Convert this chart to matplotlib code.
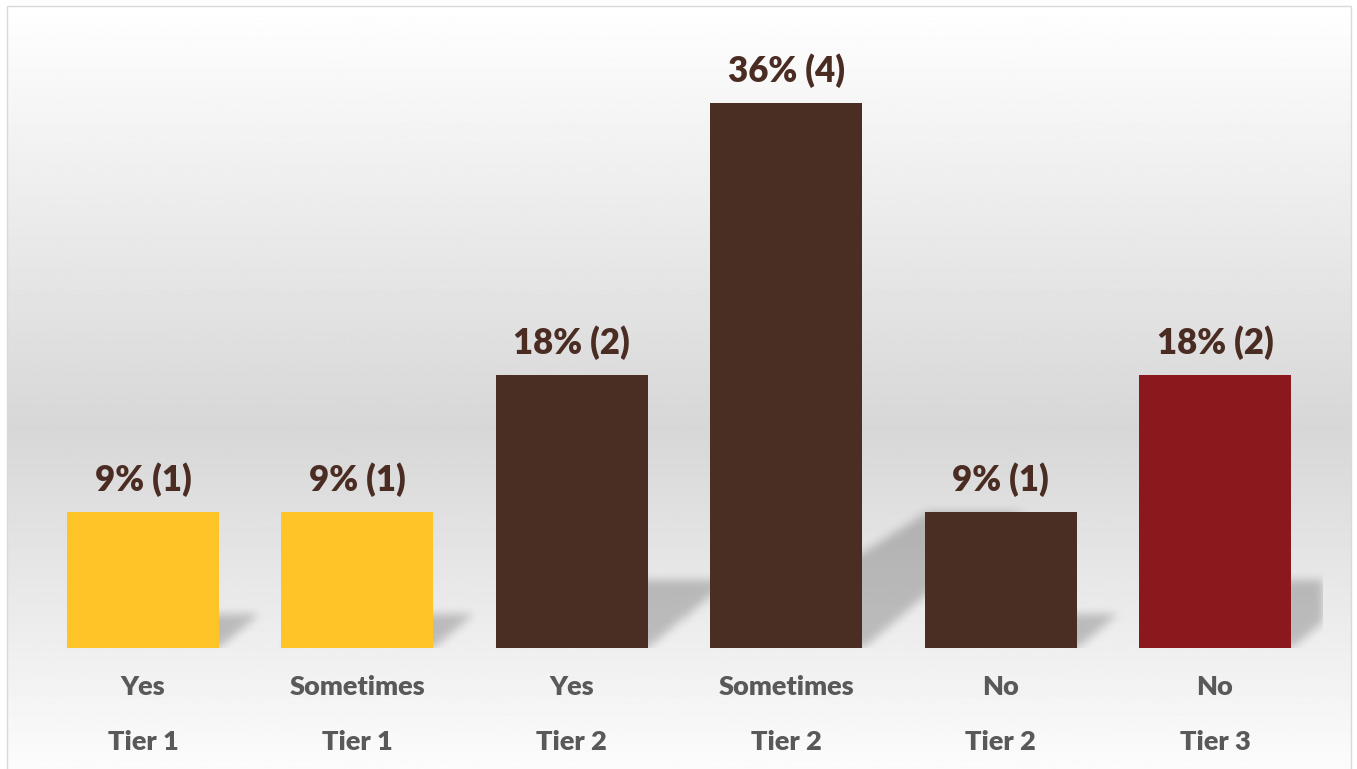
import matplotlib
import matplotlib.pyplot as plt
import numpy as np
from matplotlib.patches import Rectangle

matplotlib.use("Agg")

# survey responses, grouped by tier
answers = ["Yes", "Sometimes", "Yes", "Sometimes", "No", "No"]
tiers = ["Tier 1", "Tier 1", "Tier 2", "Tier 2", "Tier 2", "Tier 3"]
counts = [1, 1, 2, 4, 1, 2]

tier_colors = {"Tier 1": "#fec428", "Tier 2": "#4a2e24", "Tier 3": "#8b181c"}
label_color = "#4a2c23"
axis_text_color = "#595959"
font = ["Lato", "DejaVu Sans"]

W, H = 1357, 769


def gaussian_blur(a, sigma):
    r = int(3 * sigma)
    k = np.exp(-0.5 * (np.arange(-r, r + 1) / sigma) ** 2)
    k /= k.sum()
    a = np.apply_along_axis(lambda m: np.convolve(m, k, mode="same"), 0, a)
    a = np.apply_along_axis(lambda m: np.convolve(m, k, mode="same"), 1, a)
    return a


def draw_shadows(ax, bars, rise=0.25, lean_left=0.397, lean_right=0.294,
                 sigma=4.5, alpha=0.21):
    """Soft perspective shadow cast up and to the right of each bar."""
    bbox = ax.bbox
    nx, ny = int(round(bbox.width)), int(round(bbox.height))
    X, Y = np.meshgrid(bbox.x0 + np.arange(nx) + 0.5,
                       bbox.y0 + np.arange(ny) + 0.5)
    mask = np.zeros((ny, nx))
    for bar in bars:
        (x0, y0), (x1, y1) = ax.transData.transform(
            [(bar.get_x(), 0), (bar.get_x() + bar.get_width(), bar.get_height())]
        )
        h = y1 - y0
        top = rise * h
        s = np.clip((Y - y0) / top, 0, 1)
        inside = (
            (Y >= y0) & (Y <= y0 + top)
            & (X >= x0 + s * lean_left * h)
            & (X <= x1 + s * lean_right * h)
        )
        mask[inside] = 1.0
    mask = gaussian_blur(mask, sigma)
    rgba = np.zeros((ny, nx, 4))
    rgba[..., 3] = mask * alpha
    ax.imshow(rgba, extent=(*ax.get_xlim(), *ax.get_ylim()), origin="lower",
              aspect="auto", zorder=1, interpolation="nearest")


fig = plt.figure(figsize=(W / 100, H / 100), dpi=100)

# chart area: vertical grey gradient inside a thin frame
bg = fig.add_axes([0, 0, 1, 1], zorder=-1)
bg.set_xlim(0, W)
bg.set_ylim(H, 0)
bg.set_axis_off()
frame = (6.5, 5.5, 1350.5, 775.0)
t = np.linspace(0, 1, 800)
shade = np.interp(t, [0.0, 0.55, 1.0], [1.0, 0.843, 0.99])
grad = np.repeat(shade[:, None], 2, axis=1)
bg.imshow(grad, cmap="gray", vmin=0, vmax=1, aspect="auto", origin="upper",
          extent=(frame[0], frame[2], frame[3], frame[1]))
bg.add_patch(Rectangle((frame[0], frame[1]), frame[2] - frame[0],
                       frame[3] - frame[1], fill=False, edgecolor="#d9d9d9",
                       linewidth=1.0))

ax = fig.add_axes([35.8 / W, 121 / H, 1286.4 / W, 600 / H], zorder=1)
ax.set_facecolor("none")
ax.set_axis_off()

total = sum(counts)
pct = [100 * c / total for c in counts]
x = np.arange(len(counts))
ax.set_xlim(-0.5, len(counts) - 0.5)
ax.set_ylim(0, 40)

bars = ax.bar(x, pct, width=0.709, color=[tier_colors[t] for t in tiers],
              zorder=2)
draw_shadows(ax, bars)
ax.set_xlim(-0.5, len(counts) - 0.5)
ax.set_ylim(0, 40)

for bar, p, c in zip(bars, pct, counts):
    ax.annotate(f"{p:.0f}% ({c})",
                xy=(bar.get_x() + bar.get_width() / 2, bar.get_height()),
                xytext=(0, 15), textcoords="offset points", ha="center",
                va="baseline", fontsize=25, fontweight="heavy",
                color=label_color, family=font, zorder=3)

# two-level category axis
for xi, a, tier in zip(x, answers, tiers):
    for text, off in ((a, -33.8), (tier, -73.4)):
        ax.annotate(text, xy=(xi, 0), xycoords=ax.get_xaxis_transform(),
                    xytext=(0, off), textcoords="offset points", ha="center",
                    va="baseline", fontsize=19.5, fontweight="heavy",
                    color=axis_text_color, family=font, annotation_clip=False)

fig.savefig("out.png", dpi=100)
